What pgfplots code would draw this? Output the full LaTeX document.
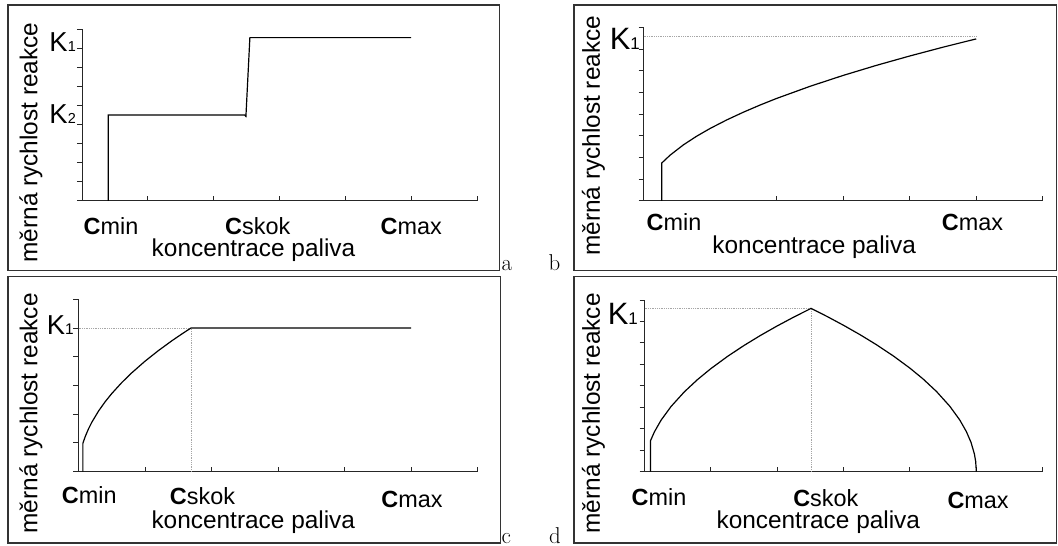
\documentclass[border=0pt]{standalone}
\usepackage{fontspec}
\usepackage{pgfplots}
\pgfplotsset{compat=1.18}
\newfontfamily\arial{Liberation Sans}

% index labels: bold C followed by its index, and K with a small digit
\newcommand{\Cl}[1]{{\bfseries C}#1}
\newcommand{\K}[3]{{\fontsize{#1}{#1}\selectfont K}{\fontsize{#2}{#2}\selectfont #3}}
\newcommand{\labfont}{\arial\fontsize{24.5}{28}\selectfont}

\pgfplotsset{
  panel/.style={
    scale only axis,
    axis lines*=left,
    axis line style={line width=1bp, black!85},
    xmin=0, xmax=6, ymin=0,
    xtick={0,...,6}, xticklabels={}, yticklabels={},
    xtick align=inside, ytick align=outside,
    major tick length=5bp,
    every tick/.style={line width=1bp, black!85},
    clip=false,
    xlabel={koncentrace paliva},
    ylabel={měrná rychlost reakce},
    extra x tick style={major tick length=0pt,
      xticklabel style={anchor=base, inner sep=0pt, font=\arial\fontsize{23.5}{26}\selectfont}},
    extra y tick style={major tick length=0pt,
      yticklabel style={anchor=base east, inner sep=0pt, font=\arial}},
  },
  xlab/.style={every axis x label/.style={at={(rel axis cs:#1)}, anchor=base, font=\labfont}},
  ylab/.style={every axis y label/.style={at={(rel axis cs:#1)}, anchor=base, rotate=90, font=\labfont}},
  curve/.style={black, line width=1.2bp},
  guide/.style={densely dotted, black!35, line width=0.8bp},
}

\begin{document}
\begin{tikzpicture}
\useasboundingbox (0bp,0bp) rectangle (1058bp,546bp);

% frames round the four panels
\begin{scope}[line width=1.3bp, black!80]
  \draw (8bp,275.3bp) rectangle (499.3bp,541bp);
  \draw (574bp,275.3bp) rectangle (1056.5bp,541bp);
  \draw (8bp,3bp) rectangle (500.5bp,269.3bp);
  \draw (574bp,3bp) rectangle (1056.5bp,269.3bp);
\end{scope}
\begin{scope}[every node/.style={anchor=base west, inner sep=0pt, font=\fontsize{23}{26}\selectfont}]
  \node at (501.5bp,275.3bp) {a};
  \node at (548.3bp,275.3bp) {b};
  \node at (501.5bp,3bp) {c};
  \node at (549bp,3bp) {d};
\end{scope}

% (a) step between two rate constants
\begin{axis}[panel,
  at={(82bp,345bp)}, anchor=south west,
  width=395bp, height=172bp,
  ymax=9, ytick={0,...,9},
  extra x ticks={0.44,2.669,5.002},
  extra x tick labels={\Cl{min},\Cl{skok},\Cl{max}},
  extra x tick style={xticklabel style={yshift=-34bp}},
  extra y ticks={7.80,4.08},
  extra y tick labels={\K{27.5}{14.5}{1},\K{27.5}{14.5}{2}},
  extra y tick style={yticklabel style={xshift=-6bp}},
  xlab={0.4342,-0.3256}, ylab={-0.1132,0.340},
]
\addplot[curve] coordinates {(0.40,0) (0.40,4.50) (2.47,4.50) (2.49,4.43) (2.55,8.55) (5.00,8.55)};
\end{axis}

% (b) rate rising over the whole range
\begin{axis}[panel,
  at={(643.5bp,345bp)}, anchor=south west,
  width=399.2bp, height=173.6bp,
  ymax=8, ytick={0,...,8}, xtick={0,2,3,4,5,6},
  extra x ticks={0.458,4.945},
  extra x tick labels={\Cl{min},\Cl{max}},
  extra x tick style={xticklabel style={yshift=-30bp}},
  extra y ticks={6.99},
  extra y tick labels={\K{31}{17}{1}},
  extra y tick style={yticklabel style={xshift=-3.5bp}},
  xlab={0.4276,-0.3013}, ylab={-0.109,0.3756},
]
\addplot[guide] coordinates {(0,7.57) (5,7.57)};
\addplot[curve] coordinates {
  (0.274,0) (0.274,1.749) (0.4,2.113) (0.6,2.588) (0.8,2.988) (1.0,3.341)
  (1.25,3.735) (1.5,4.091) (1.75,4.419) (2.0,4.725) (2.5,5.282) (3.0,5.786)
  (3.5,6.250) (4.0,6.681) (4.5,7.087) (5.0,7.470)};
\end{axis}

% (c) rise up to the jump concentration, then constant
\begin{axis}[panel,
  at={(78.5bp,74.3bp)}, anchor=south west,
  width=399.2bp, height=172.4bp,
  ymax=6, ytick={0,...,6},
  extra x ticks={0.161,1.864,5.013},
  extra x tick labels={\Cl{min},\raisebox{-1bp}{\Cl{skok}},\raisebox{-4bp}{\Cl{max}}},
  extra x tick style={xticklabel style={yshift=-32bp}},
  extra y ticks={4.758},
  extra y tick labels={\K{27.5}{15.5}{1}},
  extra y tick style={yticklabel style={xshift=-4.5bp}},
  xlab={0.4379,-0.3283}, ylab={-0.1032,0.3387},
]
\addplot[guide] coordinates {(0,5) (1.69,5)};
\addplot[guide] coordinates {(1.69,0) (1.69,5)};
\addplot[curve] coordinates {
  (0.066,0) (0.066,0.988) (0.1,1.216) (0.15,1.490) (0.2,1.720) (0.3,2.107)
  (0.4,2.433) (0.5,2.720) (0.65,3.101) (0.8,3.440) (1.0,3.846) (1.2,4.213)
  (1.4,4.551) (1.55,4.788) (1.69,5.000) (5.0,5.000)};
\end{axis}

% (d) rise up to the jump concentration, then fall to zero
\begin{axis}[panel,
  at={(644.5bp,74.3bp)}, anchor=south west,
  width=398.2bp, height=171.7bp,
  ymax=8, ytick={0,...,8},
  extra x ticks={0.218,2.732,5.026},
  extra x tick labels={\Cl{min},\raisebox{-1bp}{\Cl{skok}},\raisebox{-3bp}{\Cl{max}}},
  extra x tick style={xticklabel style={yshift=-33.5bp}},
  extra y ticks={6.836},
  extra y tick labels={\K{31}{17}{1}},
  extra y tick style={yticklabel style={xshift=-6.5bp}},
  xlab={0.4365,-0.3296}, ylab={-0.1118,0.340},
]
\addplot[guide] coordinates {(0,7.61) (2.51,7.61)};
\addplot[guide] coordinates {(2.51,0) (2.51,7.61)};
\addplot[curve] coordinates {
  (0.09,0) (0.09,1.441) (0.15,1.860) (0.25,2.402) (0.4,3.038) (0.6,3.721)
  (0.8,4.296) (1.0,4.803) (1.25,5.370) (1.5,5.883) (1.75,6.354) (2.0,6.793)
  (2.25,7.205) (2.51,7.610) (2.75,7.234) (3.0,6.820) (3.25,6.380) (3.5,5.907)
  (3.75,5.392) (4.0,4.823) (4.2,4.314) (4.4,3.736) (4.6,3.050) (4.75,2.411)
  (4.85,1.868) (4.92,1.364) (4.97,0.835) (4.99,0.482) (5.0,0)};
\end{axis}
\end{tikzpicture}
\end{document}
